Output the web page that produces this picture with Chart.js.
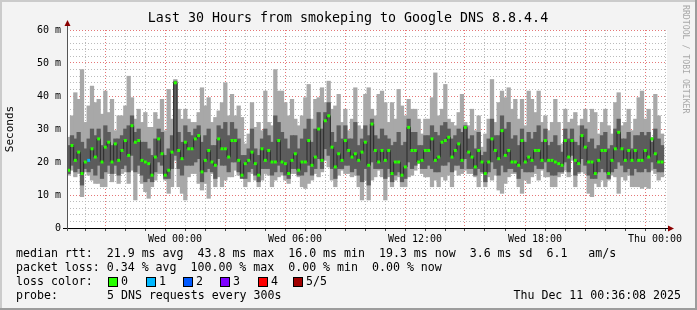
<!DOCTYPE html>
<html>
<head>
<meta charset="utf-8">
<script src="https://cdn.jsdelivr.net/npm/chart.js@4/dist/chart.umd.min.js"></script>
<style>
  html, body { margin: 0; padding: 0; background: #f3f3f3; }
  #wrap { width: 697px; height: 310px; }
</style>
</head>
<body>
<div id="wrap"><canvas id="chart" width="697" height="310"></canvas></div>
<script>
// Smokeping: Last 30 Hours to Google DNS 8.8.4.4
// one sample = 10 minutes, hours counted from Wed 00:00
const START_HOUR = -5.4;   // Tue 18:36
const END_HOUR = 24.6;     // Thu 00:36
const STEP_HOUR = 1 / 6;

// median rtt (ms)
const medRtt = [
  17.5,25,20.5,23,16.5,20,20.5,24,21.5,27,20,24.5,26,20,25.5,20.5,23.5,26.5,22,31,26,26.5,20.5,20,19.5,16,21.5,27,22.5,16,
  17.5,23,44,23.5,21,26,24,24,27,28,17,20.5,23.5,20,19,27,24,24,21.5,26.5,26.5,20.5,16,19.5,20.5,23,19.5,16,24,20.5,
  23.5,20,20,26.5,20,19.5,16.5,20.5,22.5,17.5,20,20,26.5,19,21.5,30,20.5,32.5,34,24.5,18.5,22.5,20.5,26.5,23.5,21.5,22.5,20.5,23,26,
  19,31.5,23.5,20,23.5,20.5,23.5,16.5,20,20,16,18.5,30.5,23.5,23.5,20,20.5,23.5,23.5,27,20.5,21.5,26,26.5,27.5,21.5,23.5,25.5,20.5,30.5,
  23,21.5,18.5,23.5,20,16.5,20,27,23.5,21,29.5,22,23.5,20,20,19,26.5,20,21.5,20.5,23.5,23.5,20.5,26.5,20.5,20.5,20,19.5,19,26.5,
  21.5,26.5,20.5,19.5,28,24.5,20,20,16.5,20.5,23.5,23.5,16.5,20.5,24,29,24,20.5,23.5,20.5,23.5,20.5,20.5,23.5,21.5,27,22.5,20,20
];
// fastest ping (ms)
const minRtt = [
  16,17.5,15.5,16.5,9.5,17,16,14.5,13.5,13.5,12.5,12.5,16.5,14,16.5,13.5,16.5,17,13.5,17.5,8.5,16.5,13.5,11,9,12.5,14.5,16.5,16.5,14.5,
  10.5,12.5,20.5,12.5,10.5,8.5,15.5,16.5,16.5,13.5,11.5,13.5,9,16.5,12.5,15.5,12.5,14.5,15.5,15.5,17.5,16,15.5,12.5,14,16.5,14.5,12.5,14.5,16.5,
  16,12.5,14.5,15.5,16,14.5,13.5,16.5,16.5,15.5,12.5,12,13.5,14.5,16.5,15.5,17,20.5,18.5,14.5,12.5,16,17.5,16.5,16.5,15.5,16,12.5,8.5,14.5,
  8.5,14.5,15.5,17.5,15.5,8.5,15.5,12.5,14.5,15.5,12.5,12.5,15.5,16,17.5,19.5,16.5,15.5,15.5,12.5,14.5,12.5,15.5,14.5,16,12.5,17.5,16,16.5,17.5,
  16.5,16.5,15.5,12.5,16.5,12.5,15.5,14.5,16,11.5,10.5,13.5,15.5,16.5,16.5,12.5,10.5,14.5,13.5,15.5,16.5,14.5,17.5,15.5,15.5,12.5,12.5,15.5,16.5,17.5,
  15.5,20.5,12.5,16.5,17,16.5,10.5,9.5,13.5,12.5,14.5,12.5,14.5,16,15.5,10.5,15.5,14.5,16,12.5,12.5,12.5,12,12.5,12,17.5,16.5,14.5,15.5
];
// slowest ping (ms)
const maxRtt = [
  27.5,34,41,39,48,32,37,43,38,39,34.5,41.5,35,39,29.5,34,34,37,46,39.5,33,36,32,35,30.5,30.5,35,33,39,29.5,
  42,33,45,36,33,36,33,32,32,35,42.5,37,39.5,32,33.5,35.5,38,44,34,40.5,34,37,33.5,25.5,28.5,38,30.5,32,29.5,41.5,
  32,31,48,41.5,41.5,38,34,39,33,31,34,39.5,43.5,33,39,39.5,42.5,38,44.5,36,37,40.5,32,36,29.5,33,42.5,31,30,40.5,
  42.5,36,34,40.5,41.5,38,32,38,33,42,37,34,39,36,36,33,28.5,33,33,39.5,47,34,36,43.5,33,32,31,35,40.5,32,
  31,36,29.5,34,24.5,28.5,33,45,32,38,41.5,39.5,42.5,36,39,33,39,31,41.5,39,35,41.5,32,34,29.5,32,39,32,25.5,36,
  32,33,35,31,33,36,32,36,35,28.5,32,36,31,28.5,38,41,31,32,36,29.5,33,39.5,41.5,33,36,27.5,40.5,34,28.5
];
// inner smoke band, lower edge (ms)
const innerLo = [
  16.5,19,17,18,13,18,17,18,16,19,15,17,19,16.5,19,16,18,19,17,22,17,19,16,14,15,14,17,20,19,15,
  15,18,22,18,16,19,19,19,20,21,14,17,18,17,15,21,19,19,17,20,20,17,15,15,17,18,16,14,18,18,
  18,16,17,19,17,16,15,18,18,16,16,17,19,16,18,21,18,24,22,18,15,18,18,19,19,17,18,16,14,18,
  13,20,18,18,18,15,18,14,16,17,14,15,20,18,19,20,18,18,19,18,17,17,19,19,20,17,19,19,18,21,
  18,18,16,18,17,14,17,20,18,16,19,17,18,18,17,15,18,17,17,17,19,18,18,20,17,16,16,17,17,20,
  17,22,16,17,21,19,16,15,15,17,18,17,15,17,18,20,19,17,18,16,18,17,17,18,17,20,18,17,17
];
// inner smoke band, upper edge (ms)
const innerHi = [
  25,28,27,29,26,24,27,30,28,30,25,31,29,25,27,27,28,30,31,34,29,30,26,26,24,22,27,30,29,22,
  24,28,44.5,29,26,31,29,28,30,31,26,28,30,25,25,31,30,32,28,32,30,27,22,22,24,30,24,22,27,30,
  28,26,34,32,29,27,24,28,28,24,27,30,33,26,30,35,30,35,38,29,26,31,27,31,27,27,32,25,27,31,
  28,33,28,27,30,28,27,25,26,29,25,26,33,29,29,25,25,28,28,31,29,28,31,32,30,27,28,30,29,31,
  27,28,24,29,22,23,27,33,28,28,34,30,32,27,28,25,30,26,29,27,29,31,26,30,25,26,28,25,23,30,
  27,30,26,25,31,30,26,27,24,25,28,29,24,25,30,33,27,27,29,24,28,28,29,28,29,26,30,27,25
];
// samples that lost pings, and how many
const lossSamples = [6];
const lossCounts = [1];

const LOSS_COLORS = ['#26ff00', '#00b8ff', '#0059ff', '#7e00ff', '#ff0000', '#a10000'];
const LOSS_LABELS = ['0', '1', '2', '3', '4', '5/5'];

const X_LABEL_HOURS = [0, 6, 12, 18, 24];
const X_LABELS = ['Wed 00:00', 'Wed 06:00', 'Wed 12:00', 'Wed 18:00', 'Thu 00:00'];

const STATS_LINES = [
  'median rtt:  21.9 ms avg  43.8 ms max  16.0 ms min  19.3 ms now  3.6 ms sd  6.1   am/s',
  'packet loss: 0.34 % avg  100.00 % max  0.00 % min  0.00 % now',
];

const FONT = "'DejaVu Sans Mono', monospace";
Chart.defaults.font.family = FONT;
Chart.defaults.color = '#000';

const xAt = i => START_HOUR + (i + 0.5) * STEP_HOUR;
const lossOf = i => {
  const k = lossSamples.indexOf(i);
  return k < 0 ? 0 : lossCounts[k];
};

const outerData = medRtt.map((m, i) => ({ x: xAt(i), y: [minRtt[i], maxRtt[i]] }));
const innerData = medRtt.map((m, i) => ({ x: xAt(i), y: [innerLo[i], innerHi[i]] }));
const medData = medRtt.map((m, i) => ({ x: xAt(i), y: m }));

const gridColor = (major) => major ? 'rgba(225,95,95,0.85)' : 'rgba(180,180,180,0.9)';

const framePlugin = {
  id: 'smokeFrame',
  beforeDraw(chart) {
    const { ctx, chartArea: a } = chart;
    ctx.save();
    ctx.fillStyle = '#f3f3f3';
    ctx.fillRect(0, 0, 697, 310);
    // 3d frame
    ctx.fillStyle = '#cbcbcb';
    ctx.fillRect(0, 0, 697, 2);
    ctx.fillRect(0, 0, 2, 310);
    ctx.fillStyle = '#9c9c9c';
    ctx.fillRect(695, 0, 2, 310);
    ctx.fillRect(0, 308, 697, 2);
    ctx.fillStyle = '#fff';
    ctx.fillRect(a.left, a.top, a.right - a.left, a.bottom - a.top);
    ctx.restore();
  },
  afterDraw(chart) {
    const { ctx, chartArea: a } = chart;
    ctx.save();
    // axes
    ctx.strokeStyle = '#000';
    ctx.lineWidth = 1;
    ctx.beginPath();
    ctx.moveTo(a.left - 4, a.bottom + 0.5);
    ctx.lineTo(a.right + 2, a.bottom + 0.5);
    ctx.stroke();
    ctx.strokeStyle = '#555';
    ctx.beginPath();
    ctx.moveTo(a.left + 0.5, a.bottom + 3);
    ctx.lineTo(a.left + 0.5, a.top - 6);
    ctx.stroke();
    ctx.fillStyle = '#8b0000';
    ctx.beginPath();
    ctx.moveTo(a.right + 7, a.bottom + 0.5);
    ctx.lineTo(a.right + 1, a.bottom - 2.5);
    ctx.lineTo(a.right + 1, a.bottom + 3.5);
    ctx.closePath();
    ctx.fill();
    ctx.beginPath();
    ctx.moveTo(a.left + 0.5, a.top - 10);
    ctx.lineTo(a.left - 2.5, a.top - 4);
    ctx.lineTo(a.left + 3.5, a.top - 4);
    ctx.closePath();
    ctx.fill();

    // title
    ctx.fillStyle = '#000';
    ctx.font = `13.3px ${FONT}`;
    ctx.textAlign = 'center';
    ctx.textBaseline = 'middle';
    ctx.fillText('Last 30 Hours from smokeping to Google DNS 8.8.4.4', 348, 19);

    // stats block
    ctx.font = `11.6px ${FONT}`;
    ctx.textAlign = 'left';
    ctx.fillText(STATS_LINES[0], 16, 254);
    ctx.fillText(STATS_LINES[1], 16, 268);
    ctx.fillText('loss color:', 16, 282);
    const boxX = [108, 146, 183, 220, 258, 293];
    LOSS_COLORS.forEach((c, i) => {
      ctx.fillStyle = c;
      ctx.fillRect(boxX[i], 277, 9, 9);
      ctx.strokeStyle = '#000';
      ctx.strokeRect(boxX[i] + 0.5, 277.5, 9, 9);
      ctx.fillStyle = '#000';
      ctx.fillText(LOSS_LABELS[i], boxX[i] + 13, 282);
    });
    ctx.fillText('probe:', 16, 296);
    ctx.fillText('5 DNS requests every 300s', 107, 296);
    ctx.textAlign = 'right';
    ctx.fillText('Thu Dec 11 00:36:08 2025', 681, 296);

    // rrdtool watermark
    ctx.translate(685, 5);
    ctx.rotate(Math.PI / 2);
    ctx.textAlign = 'left';
    ctx.fillStyle = '#a8a8a8';
    ctx.font = `8.2px ${FONT}`;
    ctx.fillText('RRDTOOL / TOBI OETIKER', 0, 0);
    ctx.restore();
  }
};

new Chart(document.getElementById('chart'), {
  type: 'bar',
  data: {
    datasets: [
      {
        type: 'scatter',
        label: 'median',
        data: medData,
        pointStyle: 'rect',
        pointRadius: 2.1,
        pointBorderWidth: 0,
        pointBackgroundColor: medRtt.map((m, i) => LOSS_COLORS[lossOf(i)]),
        order: 0,
      },
      {
        type: 'line',
        label: 'median step',
        data: medData,
        stepped: 'middle',
        borderColor: '#2a2a2a',
        borderWidth: 1,
        pointRadius: 0,
        fill: false,
        order: 1,
      },
      {
        label: 'inner smoke',
        data: innerData,
        backgroundColor: '#5c5c5c',
        barThickness: 3.6,
        grouped: false,
        order: 2,
      },
      {
        label: 'outer smoke',
        data: outerData,
        backgroundColor: '#a8a8a8',
        barThickness: 3.6,
        grouped: false,
        order: 3,
      },
    ],
  },
  options: {
    responsive: false,
    animation: false,
    devicePixelRatio: 1,
    layout: { padding: { top: 30, right: 30, left: 0, bottom: 0 } },
    plugins: { legend: { display: false }, tooltip: { enabled: false }, title: { display: false } },
    scales: {
      x: {
        type: 'linear',
        min: START_HOUR,
        max: END_HOUR,
        offset: false,
        afterFit: (s) => { s.height = 82; },
        afterBuildTicks: (s) => {
          const t = [];
          for (let h = Math.ceil(START_HOUR); h <= Math.floor(END_HOUR); h++) t.push({ value: h });
          s.ticks = t;
        },
        grid: {
          color: (c) => gridColor(c.tick && ((c.tick.value % 3) + 3) % 3 === 0),
          tickColor: '#444',
          tickLength: 3,
          lineWidth: 1,
        },
        border: { display: false, dash: [1, 2] },
        ticks: {
          autoSkip: false,
          maxRotation: 0,
          padding: 2,
          font: { size: 10 },
          callback: (v) => {
            const k = X_LABEL_HOURS.indexOf(v);
            return k < 0 ? '' : X_LABELS[k];
          },
        },
      },
      y: {
        min: 0,
        max: 60,
        afterFit: (s) => { s.width = 67; },
        title: { display: true, text: 'Seconds', font: { size: 11 }, padding: { top: 4, bottom: 0 } },
        grid: {
          color: (c) => gridColor(c.tick && c.tick.value % 10 === 0),
          drawTicks: false,
          lineWidth: 1,
        },
        border: { display: false, dash: [1, 2] },
        ticks: {
          stepSize: 2,
          autoSkip: false,
          padding: 6,
          font: { size: 10 },
          callback: (v) => (v % 10 !== 0 ? '' : v === 0 ? '0' : v + ' m'),
        },
      },
    },
  },
  plugins: [framePlugin],
});
</script>
</body>
</html>
